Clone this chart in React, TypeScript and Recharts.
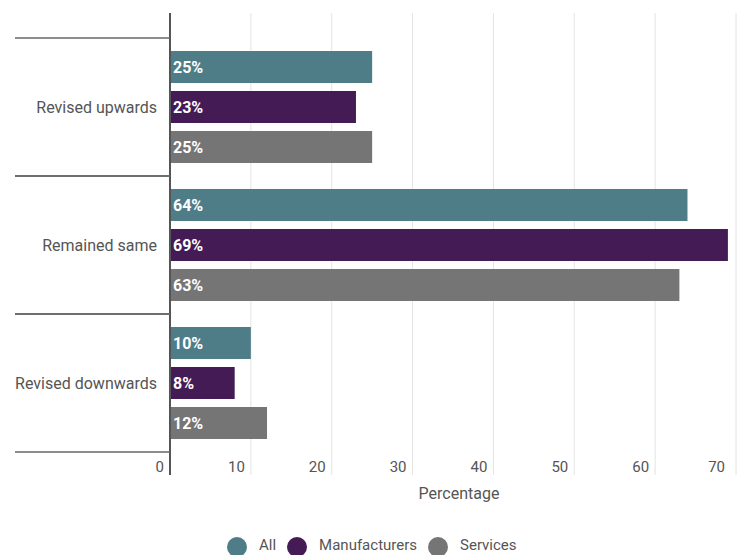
import React from 'react';
import { BarChart, Bar, XAxis, YAxis, CartesianGrid, LabelList, Legend } from 'recharts';

const categories = ['Revised upwards', 'Remained same', 'Revised downwards'];
const allValues = [25, 64, 10];
const manufacturersValues = [23, 69, 8];
const servicesValues = [25, 63, 12];
const xTicks = [0, 10, 20, 30, 40, 50, 60, 70];
const seriesKeys = ['all', 'manufacturers', 'services'];
const seriesNames = ['All', 'Manufacturers', 'Services'];
const seriesColors = ['#4f7d87', '#451b56', '#757575'];

const data = categories.map((c, i) => ({
  category: c,
  all: allValues[i],
  manufacturers: manufacturersValues[i],
  services: servicesValues[i],
}));

const W = 739;
const H = 555;
const TOP = 13;
const PLOT_BOTTOM = 475;
const PAD_TOP = 25;
const PAD_BOTTOM = 23;
const BAND = (PLOT_BOTTOM - TOP - PAD_TOP - PAD_BOTTOM) / categories.length;
const FONT = 'Roboto, sans-serif';
const TEXT = '#555';

const YTick = (props: any) => {
  const { y, payload } = props;
  return (
    <g>
      <line x1={15} x2={170} y1={y - BAND / 2} y2={y - BAND / 2} stroke="#666" strokeWidth={1.5} />
      <line x1={15} x2={170} y1={y + BAND / 2} y2={y + BAND / 2} stroke="#666" strokeWidth={1.5} />
      <text x={157} y={y} dy={6} textAnchor="end" fontSize={16} fill={TEXT} fontFamily={FONT}>
        {payload.value}
      </text>
    </g>
  );
};

const XTick = (props: any) => {
  const { x, payload } = props;
  return (
    <text x={x - 6} y={PLOT_BOTTOM - 3} textAnchor="end" fontSize={15} fill={TEXT} fontFamily={FONT}>
      {payload.value}
    </text>
  );
};

const XLabel = (props: any) => {
  const vb = props.viewBox || {};
  const cx = (vb.x ?? 170) + (vb.width ?? 566) / 2 + 6;
  return (
    <text x={cx} y={499} textAnchor="middle" fontSize={16} fill={TEXT} fontFamily={FONT}>
      Percentage
    </text>
  );
};

const LegendContent = () => (
  <div style={{ height: 40, position: 'relative', fontFamily: FONT, fontSize: 15, color: TEXT }}>
    <div style={{ position: 'absolute', left: 227, top: 22, display: 'flex', alignItems: 'center', whiteSpace: 'nowrap', lineHeight: '16px' }}>
      {seriesNames.map((n, i) => (
        <div key={n} style={{ display: 'flex', alignItems: 'center', marginRight: 11 }}>
          <span style={{ width: 20, height: 20, borderRadius: 10, background: seriesColors[i], display: 'inline-block', marginRight: 12 }} />
          <span style={{ position: 'relative', top: -2 }}>{n}</span>
        </div>
      ))}
    </div>
  </div>
);

export default function App() {
  return (
    <div style={{ position: 'absolute', left: 0, top: 0, width: W, height: H, background: '#fff', overflow: 'hidden' }}>
      <BarChart
        width={W}
        height={H}
        data={data}
        layout="vertical"
        margin={{ top: TOP, right: 3, bottom: 0, left: 0 }}
        barCategoryGap={13}
        barGap={8}
      >
        <CartesianGrid horizontal={false} vertical={true} stroke="#e4e4e4" strokeWidth={1} />
        <XAxis
          type="number"
          domain={[0, 70]}
          ticks={xTicks}
          axisLine={false}
          tickLine={false}
          height={40}
          tick={<XTick />}
          label={<XLabel />}
        />
        <YAxis
          type="category"
          dataKey="category"
          width={170}
          padding={{ top: PAD_TOP, bottom: PAD_BOTTOM }}
          axisLine={{ stroke: '#555', strokeWidth: 2 }}
          tickLine={false}
          tick={<YTick />}
          interval={0}
        />
        <Legend verticalAlign="bottom" content={<LegendContent />} />
        {seriesKeys.map((k, i) => (
          <Bar key={k} dataKey={k} name={seriesNames[i]} fill={seriesColors[i]} isAnimationActive={false}>
            <LabelList
              dataKey={k}
              position="insideLeft"
              offset={3}
              formatter={(v: any) => `${v}%`}
              fill="#fff"
              fontWeight="bold"
              fontSize={16}
              fontFamily={FONT}
            />
          </Bar>
        ))}
      </BarChart>
    </div>
  );
}
